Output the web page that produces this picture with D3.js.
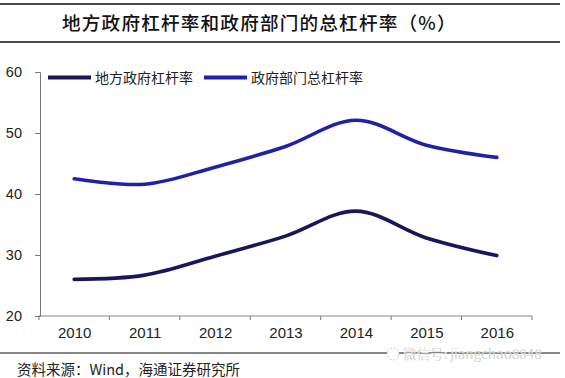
<!DOCTYPE html>
<html><head><meta charset="utf-8">
<script src="https://cdn.jsdelivr.net/npm/d3@7"></script>
<style>body{margin:0;background:#fff}svg{display:block}</style>
</head><body>
<svg id="c" width="565" height="378"></svg>
<script>
const years = ["2010","2011","2012","2013","2014","2015","2016"];
const localGov = [26.0, 26.7, 29.8, 33.1, 37.2, 32.8, 29.9];
const govTotal = [42.5, 41.6, 44.4, 47.8, 52.1, 48.0, 46.0];
const yTicks = [20, 30, 40, 50, 60];
const seriesNames = ["地方政府杠杆率", "政府部门总杠杆率"];
const title = "地方政府杠杆率和政府部门的总杠杆率（%）";
const source = "资料来源：Wind，海通证券研究所";
const watermark = "微信号: jiangchao8848";

const svg = d3.select("#c");
const cjkSerif = "'Noto Sans CJK SC', sans-serif";
const latin = "Arial, 'Liberation Sans', sans-serif";

// header rules and title
svg.append("line").attr("x1",0).attr("x2",560).attr("y1",4).attr("y2",4).attr("stroke","#111").attr("stroke-width",1.5);
svg.append("line").attr("x1",0).attr("x2",560).attr("y1",42).attr("y2",42).attr("stroke","#111").attr("stroke-width",1.5);
svg.append("text").attr("x",62).attr("y",30).text(title)
  .attr("font-family",cjkSerif).attr("font-size",18.6).attr("font-weight",500).attr("fill","#111")
  .attr("letter-spacing",1.2);

const band = d3.scaleBand().domain(years).range([39,532]);
const x = d3.scalePoint().domain(years).range([39,532]).padding(0.5);
const y = d3.scaleLinear().domain([20,60]).range([316,72]);

// y axis
const yAxis = svg.append("g").attr("transform","translate(40,0)")
  .call(d3.axisLeft(y).tickValues(yTicks).tickSize(5).tickPadding(13));
yAxis.select(".domain").attr("stroke","#777");
yAxis.selectAll(".tick line").attr("stroke","#777");
yAxis.selectAll(".tick text").attr("font-family",latin).attr("font-size",14.5).attr("fill","#222");

// x axis
const xAxis = svg.append("g").attr("transform","translate(0,316)")
  .call(d3.axisBottom(x).tickSize(0).tickPadding(11));
xAxis.select(".domain").attr("stroke","#888").attr("d","M39,0H532");
xAxis.selectAll(".tick text").attr("font-family",latin).attr("font-size",15).attr("fill","#222");
const bounds = years.map(d => band(d)).concat([band.range()[1]]);
xAxis.selectAll("line.bt").data(bounds).join("line").attr("class","bt")
  .attr("x1",d=>d).attr("x2",d=>d).attr("y1",0).attr("y2",4).attr("stroke","#777");

// lines
const colors = ["#17175c","#2121a6"];
const line = d3.line().x((d,i)=>x(years[i])).y(d=>y(d)).curve(d3.curveCatmullRom.alpha(0.5));
[localGov, govTotal].forEach((s,i)=>{
  svg.append("path").attr("d",line(s)).attr("fill","none").attr("stroke",colors[i])
    .attr("stroke-width",3.6).attr("stroke-linecap","round");
});

// legend
const leg = [{x1:48,x2:91,tx:95},{x1:204,x2:247,tx:251}];
leg.forEach((l,i)=>{
  svg.append("line").attr("x1",l.x1).attr("x2",l.x2).attr("y1",77.5).attr("y2",77.5)
    .attr("stroke",colors[i]).attr("stroke-width",4);
  svg.append("text").attr("x",l.tx).attr("y",82.5).text(seriesNames[i])
    .attr("font-family",cjkSerif).attr("font-size",14).attr("fill","#222");
});

// footer
svg.append("line").attr("x1",0).attr("x2",560).attr("y1",353).attr("y2",353).attr("stroke","#111").attr("stroke-width",1.2);
svg.append("text").attr("x",17).attr("y",375).text(source)
  .attr("font-family",cjkSerif).attr("font-size",14.5).attr("fill","#222");
svg.append("circle").attr("cx",393).attr("cy",354).attr("r",6).attr("fill","#fff").attr("stroke","#ccc").attr("stroke-dasharray","2,1.5");
svg.append("text").attr("x",403).attr("y",359).text(watermark)
  .attr("font-family",cjkSerif).attr("font-size",13.5).attr("fill","#bbb")
  .attr("stroke","#fff").attr("stroke-width",0.3);
</script>
</body></html>
